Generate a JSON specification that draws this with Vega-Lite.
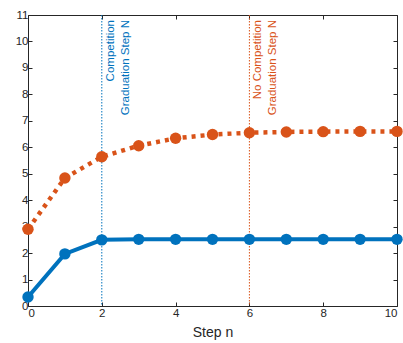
{
  "$schema": "https://vega.github.io/schema/vega-lite/v6.json",
  "width": 369,
  "height": 291,
  "padding": {"left": 15, "top": 9, "right": 0, "bottom": 0},
  "background": "white",
  "config": {
    "view": {"stroke": "#262626", "strokeWidth": 1},
    "font": "Liberation Sans",
    "axis": {
      "grid": false,
      "domain": false,
      "tickColor": "#262626",
      "tickSize": -4,
      "labelColor": "#262626",
      "labelFontSize": 11.5,
      "labelOverlap": false,
      "labelFont": "Liberation Sans",
      "titleFont": "Liberation Sans",
      "titleColor": "#262626",
      "titleFontWeight": "normal"
    }
  },
  "datasets": {
    "series": [
      {"step": 0, "value": 0.34, "series": "Competition"},
      {"step": 1, "value": 1.97, "series": "Competition"},
      {"step": 2, "value": 2.5, "series": "Competition"},
      {"step": 3, "value": 2.52, "series": "Competition"},
      {"step": 4, "value": 2.52, "series": "Competition"},
      {"step": 5, "value": 2.52, "series": "Competition"},
      {"step": 6, "value": 2.52, "series": "Competition"},
      {"step": 7, "value": 2.52, "series": "Competition"},
      {"step": 8, "value": 2.52, "series": "Competition"},
      {"step": 9, "value": 2.52, "series": "Competition"},
      {"step": 10, "value": 2.52, "series": "Competition"},
      {"step": 0, "value": 2.9, "series": "No Competition"},
      {"step": 1, "value": 4.84, "series": "No Competition"},
      {"step": 2, "value": 5.64, "series": "No Competition"},
      {"step": 3, "value": 6.06, "series": "No Competition"},
      {"step": 4, "value": 6.34, "series": "No Competition"},
      {"step": 5, "value": 6.48, "series": "No Competition"},
      {"step": 6, "value": 6.55, "series": "No Competition"},
      {"step": 7, "value": 6.58, "series": "No Competition"},
      {"step": 8, "value": 6.59, "series": "No Competition"},
      {"step": 9, "value": 6.6, "series": "No Competition"},
      {"step": 10, "value": 6.6, "series": "No Competition"}
    ],
    "marks": [
      {"step": 2, "series": "Competition", "label": ["Competition", "Graduation Step N"]},
      {"step": 6, "series": "No Competition", "label": ["No Competition", "Graduation Step N"]}
    ]
  },
  "resolve": {"axis": {"x": "independent", "y": "independent"}},
  "layer": [
    {
      "layer": [
        {
          "data": {"name": "marks"},
          "mark": {"type": "rule", "strokeWidth": 1, "strokeDash": [1.5, 1.5]},
          "encoding": {
            "x": {"field": "step", "type": "quantitative", "scale": {"domain": [0, 10], "nice": false}, "axis": {"orient": "bottom", "values": [0, 2, 4, 6, 8, 10], "title": "Step n", "titleFontSize": 14, "titlePadding": 7, "labelPadding": 5}},
            "color": {"field": "series", "type": "nominal", "scale": {"domain": ["Competition", "No Competition"], "range": ["#0072BD", "#D95319"]}, "legend": null}
          }
        },
        {
          "data": {"name": "marks"},
          "mark": {"type": "text", "angle": 270, "align": "right", "baseline": "top", "dx": -5, "dy": 3, "fontSize": 11.5, "lineHeight": 15},
          "encoding": {
            "x": {"field": "step", "type": "quantitative", "scale": {"domain": [0, 10], "nice": false}, "axis": {"orient": "bottom", "values": [0, 2, 4, 6, 8, 10], "title": "Step n", "titleFontSize": 14, "titlePadding": 7, "labelPadding": 5}},
            "y": {"datum": 11, "type": "quantitative", "scale": {"domain": [0, 11], "nice": false}, "axis": {"orient": "left", "values": [0,1,2,3,4,5,6,7,8,9,10,11], "title": null, "labelPadding": 4}},
            "text": {"field": "label"},
            "color": {"field": "series", "type": "nominal", "legend": null}
          }
        },
        {
          "data": {"name": "series"},
          "transform": [{"filter": "datum.series == 'Competition'"}],
          "mark": {"type": "line", "strokeWidth": 4, "color": "#0072BD"},
          "encoding": {
            "x": {"field": "step", "type": "quantitative", "scale": {"domain": [0, 10], "nice": false}, "axis": {"orient": "bottom", "values": [0, 2, 4, 6, 8, 10], "title": "Step n", "titleFontSize": 14, "titlePadding": 7, "labelPadding": 5}},
            "y": {"field": "value", "type": "quantitative", "scale": {"domain": [0, 11], "nice": false}, "axis": {"orient": "left", "values": [0,1,2,3,4,5,6,7,8,9,10,11], "title": null, "labelPadding": 4}}
          }
        },
        {
          "data": {"name": "series"},
          "transform": [{"filter": "datum.series == 'No Competition'"}],
          "mark": {"type": "line", "strokeWidth": 4.5, "color": "#D95319", "strokeDash": [4, 5]},
          "encoding": {
            "x": {"field": "step", "type": "quantitative", "scale": {"domain": [0, 10], "nice": false}, "axis": {"orient": "bottom", "values": [0, 2, 4, 6, 8, 10], "title": "Step n", "titleFontSize": 14, "titlePadding": 7, "labelPadding": 5}},
            "y": {"field": "value", "type": "quantitative", "scale": {"domain": [0, 11], "nice": false}, "axis": {"orient": "left", "values": [0,1,2,3,4,5,6,7,8,9,10,11], "title": null, "labelPadding": 4}}
          }
        },
        {
          "data": {"name": "series"},
          "mark": {"type": "circle", "size": 130, "opacity": 1},
          "encoding": {
            "x": {"field": "step", "type": "quantitative", "scale": {"domain": [0, 10], "nice": false}, "axis": {"orient": "bottom", "values": [0, 2, 4, 6, 8, 10], "title": "Step n", "titleFontSize": 14, "titlePadding": 7, "labelPadding": 5}},
            "y": {"field": "value", "type": "quantitative", "scale": {"domain": [0, 11], "nice": false}, "axis": {"orient": "left", "values": [0,1,2,3,4,5,6,7,8,9,10,11], "title": null, "labelPadding": 4}},
            "color": {"field": "series", "type": "nominal", "legend": null}
          }
        }
      ]
    },
    {
      "data": {"name": "marks"},
      "mark": {"type": "rule", "opacity": 0},
      "encoding": {
        "x": {"field": "step", "type": "quantitative", "axis": {"orient": "top", "values": [0, 2, 4, 6, 8, 10], "labels": false, "title": null}},
        "y": {"datum": 0, "type": "quantitative", "axis": {"orient": "right", "values": [0,1,2,3,4,5,6,7,8,9,10,11], "labels": false, "title": null}}
      }
    }
  ]
}
